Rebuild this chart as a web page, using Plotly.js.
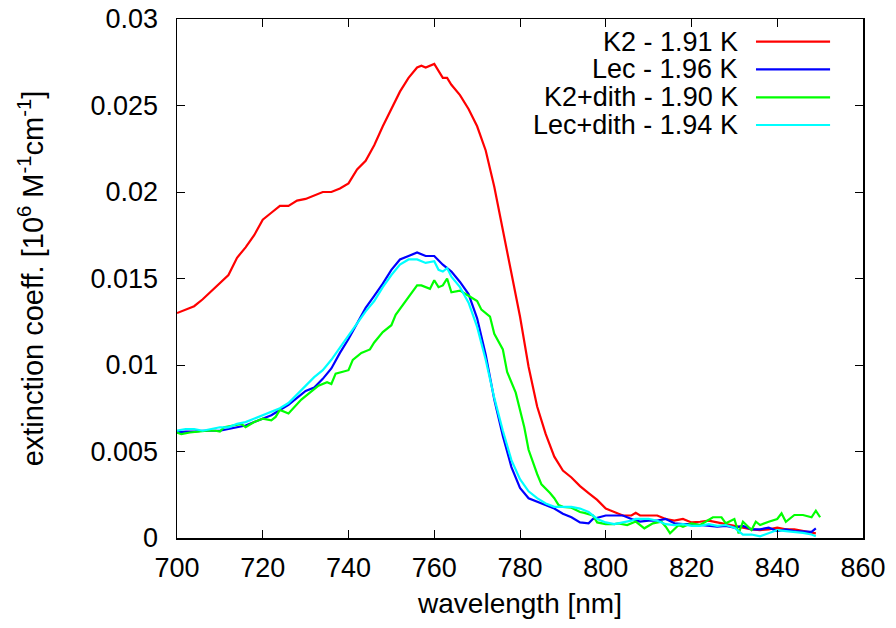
<!DOCTYPE html>
<html>
<head>
<meta charset="utf-8">
<script src="https://cdn.plot.ly/plotly-3.0.1.min.js"></script>
<style>html,body{margin:0;padding:0;background:#fff;}#chart{width:896px;height:628px;}</style>
</head>
<body>
<div id="chart"></div>
<script>
// Series names and colours
const seriesNames = ["K2 - 1.91 K", "Lec - 1.96 K", "K2+dith - 1.90 K", "Lec+dith - 1.94 K"];
const seriesColors = ["#ff0000", "#0000ff", "#00ff00", "#00ffff"];

// K2 - 1.91 K
const k2Wl = [700,702,704,706,708,710,712,714,716,718,720,722,724,726,728,730,732,734,736,738,740,742,744,746,748,750,752,754,756,757,758,760,762,763,764,766,768,770,772,774,776,778,780,781,782,784,786,788,790,792,794,796,798,800,802,804,806,807,808,810,812,814,816,818,820,822,824,826,828,830,832,834,836,838,840,842,844,846,848,849];
const k2Val = [0.0130,0.01318,0.0134,0.0138,0.01425,0.0147,0.0152,0.0162,0.0168,0.0175,0.0184,0.0188,0.0192,0.0192,0.0195,0.0196,0.0198,0.0200,0.0200,0.0202,0.0205,0.0213,0.0218,0.0227,0.0238,0.0248,0.0258,0.0266,0.0272,0.0273,0.0272,0.0274,0.0266,0.0266,0.0262,0.0256,0.0248,0.0238,0.0224,0.0203,0.0179,0.0153,0.0128,0.0113,0.0099,0.0076,0.0060,0.0047,0.0039,0.0035,0.0030,0.0026,0.0022,0.0017,0.0015,0.0013,0.0013,0.00146,0.0013,0.0013,0.0013,0.0011,0.0010,0.0011,0.0009,0.00094,0.0010,0.0009,0.0008,0.0007,0.0006,0.0005,0.00046,0.0005,0.0006,0.0005,0.0005,0.0004,0.0003,0.00027];

// Lec - 1.96 K
const lecWl = [700,702,704,706,708,710,712,714,716,718,720,722,724,726,728,730,732,734,736,738,740,742,744,746,748,750,752,754,756,758,760,762,764,766,768,770,772,774,776,778,780,782,784,786,788,790,792,794,796,797,800,802,804,806,808,810,812,814,816,818,820,822,824,826,828,830,832,834,836,838,840,842,844,846,848,849];
const lecVal = [0.0061,0.00615,0.00615,0.0062,0.0062,0.0062,0.0063,0.0064,0.0065,0.0067,0.0069,0.0071,0.0074,0.0077,0.0081,0.0085,0.0087,0.0092,0.0098,0.0107,0.0115,0.0124,0.0133,0.0140,0.0147,0.0155,0.0161,0.0163,0.0165,0.0163,0.0163,0.0158,0.0154,0.0148,0.0141,0.0127,0.0106,0.0080,0.0059,0.0041,0.0029,0.0023,0.0021,0.0019,0.0017,0.0014,0.0012,0.0009,0.00085,0.0011,0.0013,0.0013,0.0013,0.0011,0.00095,0.0010,0.0010,0.0011,0.00085,0.0008,0.0008,0.00075,0.0007,0.00065,0.0007,0.0006,0.0007,0.0005,0.0005,0.0006,0.0004,0.0005,0.0004,0.0004,0.00036,0.00056];

// K2+dith - 1.90 K
const k2dWl = [700,701,703,705,707,709,710,711,713,715,716,718,720,722,723,724,726,728,729,731,733,735,736,737,740,741,743,745,746,748,750,751,753,755,756,757,759,760,761,762,763,764,766,768,770,771,773,774,776,777,779,781,782,784,785,787,788,789,790,792,794,795,797,798,800,802,803,805,807,809,811,813,814,815,817,818,820,822,823,825,827,828,830,831,832,834,835,836,838,840,841,842,844,846,848,849,850];
const k2dVal = [0.0061,0.0060,0.0061,0.00615,0.0062,0.0062,0.00615,0.0064,0.0065,0.0066,0.0064,0.0067,0.0069,0.0068,0.0070,0.0074,0.0072,0.0077,0.0080,0.0084,0.0088,0.0090,0.0089,0.0095,0.0097,0.0103,0.0107,0.0109,0.0113,0.0119,0.0123,0.0129,0.0136,0.0143,0.0146,0.0146,0.0144,0.0149,0.0145,0.0146,0.0150,0.0142,0.0143,0.0140,0.0137,0.0132,0.0128,0.0118,0.0109,0.0096,0.0084,0.0064,0.0051,0.0037,0.0031,0.0026,0.0023,0.0019,0.0018,0.00175,0.0015,0.00145,0.0013,0.0009,0.0008,0.0008,0.00085,0.00075,0.00095,0.00056,0.00085,0.00094,0.00065,0.00027,0.00075,0.00065,0.00085,0.00075,0.0009,0.0012,0.0012,0.00085,0.0011,0.00027,0.00094,0.00046,0.00094,0.00075,0.00094,0.0011,0.00143,0.00094,0.00133,0.00133,0.0012,0.00158,0.0012];

// Lec+dith - 1.94 K
const lecdWl = [700,702,704,706,708,710,712,714,716,718,720,722,724,726,728,730,732,734,736,738,740,742,744,746,748,750,752,754,756,758,760,761,762,763,764,766,768,770,772,774,776,778,780,782,784,786,788,790,792,794,796,798,800,802,804,806,807,810,812,814,816,818,820,822,824,826,828,830,832,834,836,838,840,842,844,846,848,849];
const lecdVal = [0.0062,0.0063,0.0063,0.0062,0.0063,0.0064,0.0064,0.0066,0.0067,0.0069,0.0071,0.0073,0.0075,0.0078,0.0083,0.0088,0.0093,0.0097,0.0103,0.0110,0.0117,0.0124,0.0131,0.0137,0.0145,0.0152,0.0158,0.0161,0.0161,0.0159,0.0160,0.0155,0.0154,0.0156,0.0151,0.0145,0.0136,0.0122,0.0103,0.0081,0.0062,0.0045,0.0034,0.0027,0.0023,0.0020,0.0018,0.0018,0.0018,0.0017,0.0015,0.0011,0.0009,0.0008,0.0009,0.0010,0.0011,0.0011,0.0010,0.0008,0.00075,0.0008,0.0007,0.0007,0.0008,0.0007,0.00075,0.0006,0.0002,0.0002,0.0001,0.0003,0.00046,0.0004,0.00036,0.0003,0.0002,0.0001];

// Axis ticks
const xTicks = [700,720,740,760,780,800,820,840,860];
const yTicks = [0,0.005,0.01,0.015,0.02,0.025,0.03];
const yTickLabels = ["0","0.005","0.01","0.015","0.02","0.025","0.03"];

const FONT = "Liberation Sans, Arial, sans-serif";
const xs = [k2Wl, lecWl, k2dWl, lecdWl];
const ys = [k2Val, lecVal, k2dVal, lecdVal];

const traces = xs.map((x, i) => ({
  x: x, y: ys[i], type: "scatter", mode: "lines", name: seriesNames[i],
  line: {color: seriesColors[i], width: 2.2}, showlegend: false, hoverinfo: "x+y"
}));

// Legend drawn gnuplot-style: right-aligned text with the sample line on its right
const legY = [0.9563, 0.9031, 0.8491, 0.7958];
const annotations = seriesNames.map((n, i) => ({
  xref: "paper", yref: "paper", x: 0.8207, y: legY[i], xanchor: "right", yanchor: "middle",
  text: n, showarrow: false, font: {family: FONT, size: 27, color: "#000"}
}));
const shapes = seriesColors.map((c, i) => ({
  type: "line", xref: "paper", yref: "paper", x0: 0.844, x1: 0.952, y0: legY[i], y1: legY[i],
  line: {color: c, width: 2.2}
}));

const layout = {
  width: 896, height: 628,
  margin: {l: 177, r: 33, t: 19, b: 90},
  paper_bgcolor: "#fff", plot_bgcolor: "#fff",
  font: {family: FONT, size: 27, color: "#000"},
  showlegend: false,
  xaxis: {
    range: [700, 860], tickvals: xTicks, ticks: "inside", ticklen: 8, tickwidth: 1, tickcolor: "#000",
    showline: true, linecolor: "#000", linewidth: 1.5, mirror: "ticks", showgrid: false, zeroline: false,
    ticklabelstandoff: 5, tickfont: {family: FONT, size: 27},
    title: {text: "wavelength [nm]", font: {family: FONT, size: 28}, standoff: 11}
  },
  yaxis: {
    range: [0, 0.03], tickvals: yTicks, ticktext: yTickLabels, ticks: "inside", ticklen: 8, tickwidth: 1, tickcolor: "#000",
    showline: true, linecolor: "#000", linewidth: 1.5, mirror: "ticks", showgrid: false, zeroline: false,
    ticklabelstandoff: 12, tickfont: {family: FONT, size: 27},
    title: {text: "extinction coeff. [10<sup>6</sup> M<sup>-1</sup>cm<sup>-1</sup>]", font: {family: FONT, size: 29}, standoff: 38}
  },
  annotations: annotations,
  shapes: shapes
};

Plotly.newPlot("chart", traces, layout, {displayModeBar: false, staticPlot: true});
</script>
</body>
</html>
